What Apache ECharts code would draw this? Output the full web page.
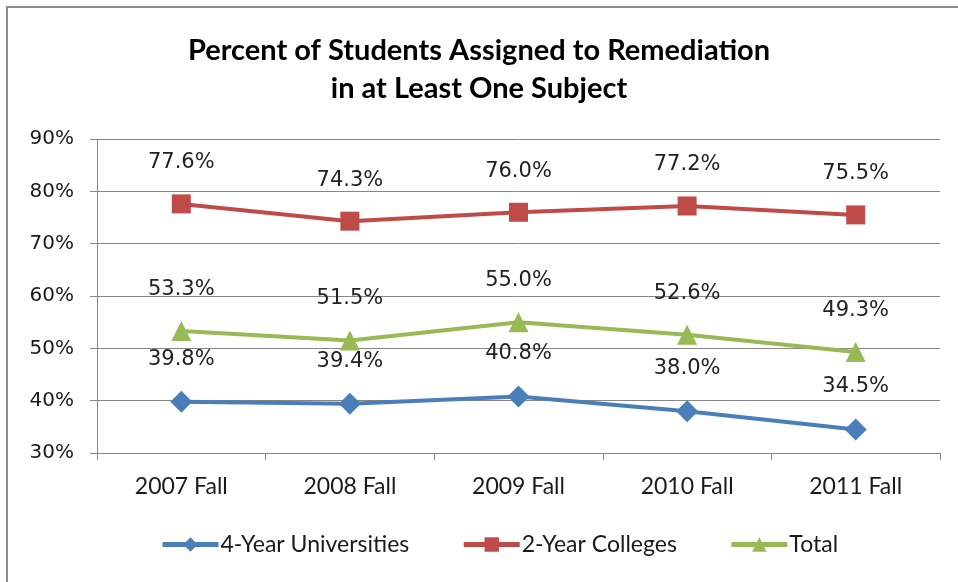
<!DOCTYPE html>
<html>
<head>
<meta charset="utf-8">
<script src="https://cdn.jsdelivr.net/npm/echarts@6/dist/echarts.min.js"></script>
<style>
  html, body { margin: 0; padding: 0; background: #fff; }
  #chart { width: 958px; height: 582px; }
</style>
</head>
<body>
<div id="chart"></div>
<script>
// data
const categories = ['2007 Fall', '2008 Fall', '2009 Fall', '2010 Fall', '2011 Fall']
const universities = [39.8, 39.4, 40.8, 38.0, 34.5]
const colleges = [77.6, 74.3, 76.0, 77.2, 75.5]
const total = [53.3, 51.5, 55.0, 52.6, 49.3]

const chart = echarts.init(document.getElementById('chart'))

const labelStyle = {
  show: true,
  position: 'top',
  distance: 21,
  fontFamily: 'DejaVu Sans',
  fontSize: 21,
  color: '#222',
  formatter: p => p.value.toFixed(1) + '%'
}

function lineSeries(name, data, color, symbol, size) {
  return {
    name,
    type: 'line',
    data,
    symbol,
    symbolSize: size,
    lineStyle: { color, width: 4, join: 'round' },
    itemStyle: { color },
    label: labelStyle
  }
}

chart.setOption({
  animation: false,
  title: {
    text: 'Percent of Students Assigned to Remediation\nin at Least One Subject',
    left: 'center',
    top: 27,
    textStyle: {
      fontFamily: 'Lato',
      fontWeight: 'bold',
      fontSize: 29,
      lineHeight: 38,
      color: '#000'
    }
  },
  graphic: [
    {
      type: 'rect',
      shape: { x: 7, y: 7, width: 960, height: 590 },
      style: { fill: 'none', stroke: '#8c8c8c', lineWidth: 2 }
    }
  ],
  legend: {
    bottom: 21,
    left: 155,
    itemWidth: 56,
    itemHeight: 18,
    itemGap: 52,
    lineStyle: { width: 5 },
    textStyle: { fontFamily: 'Lato', fontSize: 23, color: '#1a1a1a', padding: [0, 0, 0, -3] },
    data: ['4-Year Universities', '2-Year Colleges', 'Total']
  },
  grid: { left: 97, right: 18, top: 139, bottom: 129 },
  xAxis: {
    type: 'category',
    data: categories,
    boundaryGap: true,
    axisLine: { lineStyle: { color: '#868686', width: 1 } },
    axisTick: { show: true, length: 7, lineStyle: { color: '#868686' } },
    axisLabel: { margin: 22, fontFamily: 'Lato', fontSize: 23, color: '#1a1a1a' }
  },
  yAxis: {
    type: 'value',
    min: 30,
    max: 90,
    interval: 10,
    axisLine: { show: true, lineStyle: { color: '#868686', width: 1 } },
    axisTick: { show: true, length: 7, lineStyle: { color: '#868686' } },
    splitLine: { lineStyle: { color: '#868686', width: 1 } },
    axisLabel: {
      margin: 23,
      fontFamily: 'DejaVu Sans',
      fontSize: 20,
      color: '#1a1a1a',
      formatter: '{value}%'
    }
  },
  series: [
    lineSeries('4-Year Universities', universities, '#4a7ebb', 'diamond', 22),
    lineSeries('2-Year Colleges', colleges, '#be4b48', 'rect', 19),
    lineSeries('Total', total, '#98b954', 'triangle', 20)
  ]
})
</script>
</body>
</html>
